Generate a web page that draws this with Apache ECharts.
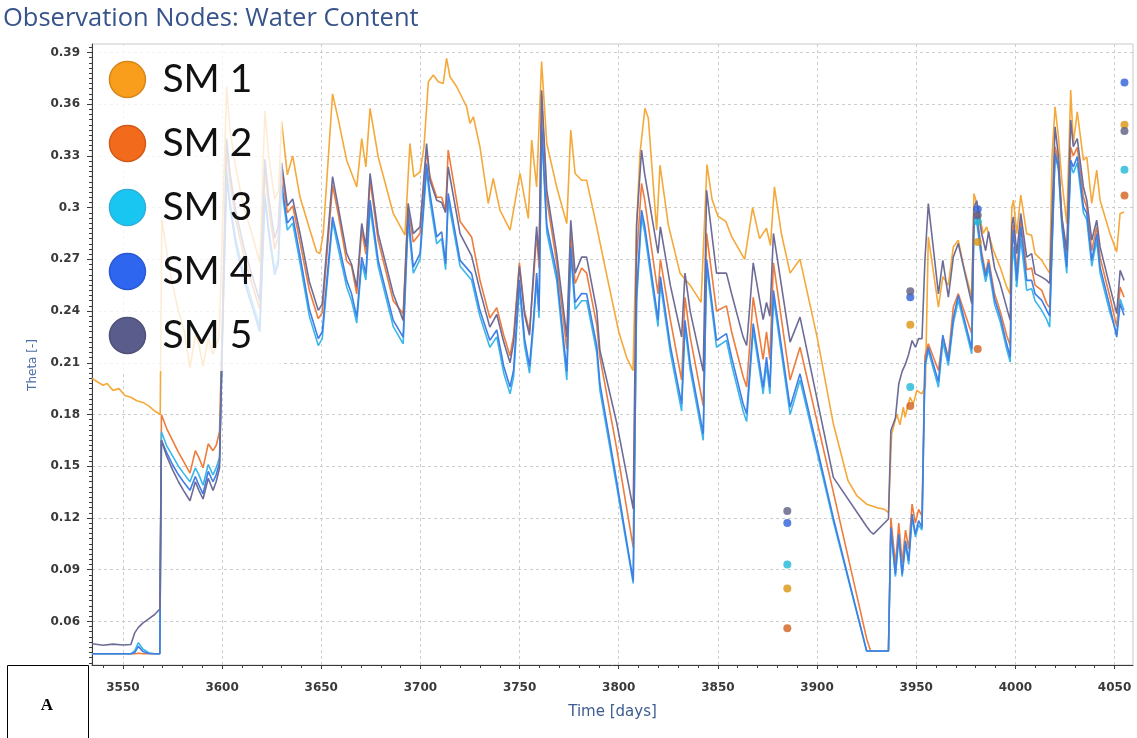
<!DOCTYPE html>
<html>
<head>
<meta charset="utf-8">
<script src="https://cdn.jsdelivr.net/npm/echarts@6/dist/echarts.min.js"></script>
<style>
html,body{margin:0;padding:0;background:#fff;}
#chart{width:1137px;height:738px;}
</style>
</head>
<body>
<div id="chart"></div>
<script>
// Observation nodes, simulated water content (theta) against time in days
const seriesNames = ['SM 1', 'SM 2', 'SM 3', 'SM 4', 'SM 5'];
const xTicks = [3550, 3600, 3650, 3700, 3750, 3800, 3850, 3900, 3950, 4000, 4050];
const yTicks = [0.06, 0.09, 0.12, 0.15, 0.18, 0.21, 0.24, 0.27, 0.3, 0.33, 0.36, 0.39];

// [day, theta]
const sm1 = [
[3534.5,.201],[3537,.199],[3540,.197],[3542,.198],[3545,.194],[3548,.195],[3551,.191],[3554,.190],[3557,.188],[3560,.187],[3563,.185],[3566,.182],[3568.8,.180],
[3569.6,.293],[3572,.275],[3575,.255],[3578,.240],[3581,.228],[3583.8,.207],[3586.5,.226],[3588,.222],[3590.4,.208],[3593,.224],[3595.4,.215],[3598.5,.225],
[3600.5,.300],[3602.3,.370],[3604,.345],[3607,.322],[3611,.300],[3615,.285],[3619,.268],[3621.6,.356],[3623.5,.330],[3626.5,.305],[3628.5,.310],
[3630,.350],[3632.9,.319],[3635.6,.330],[3639.3,.306],[3644,.288],[3647.7,.2743],[3649.3,.2733],[3651,.285],[3655.7,.366],[3658.6,.351],[3662.8,.3275],[3667.9,.312],[3670.4,.340],[3672.5,.3236],[3674.6,.3576],[3678.7,.3295],[3686.3,.2966],[3692.2,.284],[3694.7,.3372],[3696.7,.3178],[3699.8,.3207],[3701.8,.3353],[3704,.373],[3706.5,.3769],[3709,.373],[3711.5,.372],[3713.2,.3866],[3714.9,.3759],[3718.3,.3701],[3723.3,.3585],[3725,.3489],[3726.7,.3527],[3730,.3353],[3734.2,.3024],[3736.7,.3169],[3740.1,.2985],[3745.2,.2869],[3750.2,.3198],[3754.4,.2937],[3756.1,.3392],[3758.6,.312],[3761.1,.3847],[3763.7,.3372],[3768.7,.312],[3773.8,.2907],[3775.8,.345],[3778,.3198],[3781.3,.3159],[3783.8,.3159],[3788.9,.2888],[3795,.255],[3800,.228],[3804,.213],[3807.2,.2055],
[3809,.290],[3810.7,.3314],[3813.2,.3576],[3814.9,.352],[3819.1,.2869],[3820.8,.3246],[3825,.290],[3830.9,.262],[3836,.255],[3841.5,.245],[3844.5,.325],[3847,.305],[3850,.295],[3854,.292],[3857,.283],[3863.5,.270],[3867.5,.300],[3871,.282],[3874.5,.288],[3876.5,.278],[3878.5,.312],[3882,.285],[3886.4,.262],[3891.4,.270],[3900,.225],[3908.2,.1746],[3915.6,.1416],[3920,.133],[3925,.128],[3930,.126],[3934,.125],[3936,.123],
[3937.6,.1687],[3940.2,.1803],[3941.8,.174],[3943.5,.1842],[3944.4,.1784],[3946.9,.190],[3948.5,.186],[3950.3,.1939],[3952.8,.192],[3954.6,.196],[3956.1,.283],[3961.2,.2423],[3963.4,.260],[3966.2,.255],[3968.7,.2772],[3971.2,.2811],[3974,.2655],[3978,.2481],[3979.1,.3082],[3980.5,.3024],[3983.8,.285],[3985.5,.2888],[3988.9,.2752],[3992.3,.2655],[3995.6,.254],[3997.3,.250],
[3998.2,.300],[3999,.3043],[4000.7,.2849],[4002.7,.3072],[4005.7,.2849],[4008.2,.2839],[4009.9,.2733],[4013.3,.2694],[4015.8,.2646],[4017.3,.262],[4018.5,.330],[4020,.3585],[4021.7,.3411],[4023.4,.3159],[4025.9,.2908],[4027.9,.3682],[4029.2,.3372],[4031.2,.3556],[4034.3,.3275],[4036,.3295],[4038.5,.3024],[4041,.3217],[4042.7,.3043],[4047.7,.2849],[4051.1,.2743],[4052.8,.2966],[4054.8,.2975]
];

const sm2 = [
[3534.5,.0412],[3540,.0412],[3545,.0412],[3550,.0412],[3554,.0412],[3556,.0412],[3557.8,.0415],[3560,.0412],[3563,.0412],[3566,.0412],[3568.6,.0412],
[3569.4,.180],[3572,.172],[3575,.165],[3578,.158],[3580.5,.153],[3583.8,.146],[3586.5,.159],[3588.3,.155],[3590.4,.149],[3593,.163],[3595.4,.159],[3597,.162],[3598.7,.170],
[3600.5,.250],[3602.3,.335],[3604,.315],[3607,.292],[3611,.272],[3615,.256],[3619,.241],[3621.6,.322],[3623.5,.300],[3626.5,.276],[3628.3,.283],
[3630,.321],[3632.9,.297],[3635.6,.301],[3639.3,.280],[3644,.252],[3648.5,.2356],[3650.5,.239],[3655.7,.313],[3658.6,.296],[3662.8,.269],[3665.3,.266],[3667.9,.250],[3670.4,.287],[3672.5,.273],[3674.6,.316],[3678.7,.281],[3686.3,.246],[3691.3,.2385],[3693.8,.300],[3696.4,.280],[3699.8,.285],[3703.1,.333],[3704.8,.318],[3708.2,.306],[3710.7,.306],[3712.7,.298],[3714,.3334],[3720,.292],[3725.8,.283],[3730,.258],[3735,.236],
[3738.5,.242],[3742,.226],[3745.2,.214],[3747,.226],[3749.9,.268],[3752.5,.240],[3755,.228],[3757,.258],[3758.6,.285],[3759.8,.265],[3761.1,.365],[3763.7,.305],[3768.7,.268],[3773.8,.218],[3775.8,.285],[3778,.256],[3781.3,.265],[3783.8,.262],[3788.9,.232],[3790.5,.2133],[3799,.160],[3807.3,.1029],
[3809,.270],[3811.5,.314],[3813,.305],[3819.8,.250],[3821,.270],[3826,.235],[3831.7,.200],[3833.4,.248],[3836,.225],[3842.6,.185],[3844.3,.285],[3849.3,.240],[3854.3,.243],[3856.9,.228],[3862.7,.202],[3864.5,.196],[3867.8,.248],[3872.8,.212],[3874.5,.228],[3876.2,.212],[3878,.268],[3886.4,.200],[3891.4,.219],[3908.2,.135],[3925,.050],[3927,.0428],[3936,.0428],
[3937.2,.120],[3939.5,.093],[3941.2,.117],[3942.9,.094],[3944.6,.113],[3946.2,.102],[3947.9,.128],[3949.6,.117],[3951.2,.125],[3952.9,.121],[3954.4,.214],[3956.1,.221],[3961.2,.2055],[3963.4,.2249],[3966.2,.2133],[3968.7,.2423],[3971.2,.2501],[3978,.2268],[3979.1,.295],[3980.5,.297],[3983,.274],[3985,.262],[3986.5,.270],[3989.5,.250],[3992.3,.240],[3995.6,.226],[3997.4,.220],
[3998.2,.280],[3999,.290],[4000.7,.2617],[4002.7,.292],[4005.7,.264],[4008.2,.265],[4009.9,.255],[4013.3,.252],[4015.8,.2443],[4017.3,.242],[4020,.3353],[4021.7,.327],[4023.4,.294],[4025.9,.270],[4027.9,.335],[4029.2,.330],[4031.2,.335],[4034.3,.306],[4036,.300],[4038.5,.275],[4041,.289],[4042.7,.271],[4047.7,.248],[4051.1,.231],[4052.8,.2539],[4054.8,.2481]
];

const sm3 = [
[3534.5,.0412],[3540,.0412],[3545,.0412],[3550,.0412],[3554,.0412],[3556,.0430],[3557.8,.0477],[3560,.0440],[3563,.0418],[3566,.0412],[3568.6,.0412],
[3569.4,.170],[3572,.162],[3575,.156],[3578,.150],[3580.5,.146],[3583.8,.141],[3586.5,.149],[3588.3,.145],[3590.4,.139],[3593,.151],[3595.4,.145],[3597,.149],[3598.7,.155],
[3600.5,.240],[3602.3,.322],[3604,.303],[3607,.281],[3611,.261],[3615,.246],[3619,.231],[3621.6,.308],[3623.5,.288],[3626.5,.264],[3628.3,.270],
[3630,.311],[3632.9,.287],[3635.6,.291],[3639.3,.268],[3644,.237],[3648.5,.220],[3650.5,.224],[3655.7,.292],[3658.6,.276],[3662.8,.254],[3665.3,.246],[3667.9,.233],[3670.4,.268],[3672.5,.258],[3674.6,.300],[3678.7,.266],[3686.3,.231],[3691.3,.221],[3693.8,.292],[3696.4,.262],[3699.8,.270],[3703.1,.322],[3704.8,.304],[3708.2,.279],[3710.7,.282],[3712.7,.264],[3714,.304],[3720,.266],[3725.8,.258],[3730,.237],[3735,.219],
[3738.5,.225],[3742,.204],[3745.2,.192],[3747,.202],[3749.9,.254],[3752.5,.220],[3755,.204],[3757,.231],[3758.6,.258],[3759.8,.236],[3761.1,.345],[3763.7,.286],[3768.7,.258],[3773.8,.200],[3775.8,.273],[3778,.241],[3781.3,.246],[3783.8,.246],[3788.9,.216],[3790.5,.194],[3799,.138],[3807.3,.082],
[3809,.245],[3811.5,.295],[3813,.286],[3819.8,.231],[3821,.256],[3826,.216],[3831.7,.182],[3833.4,.231],[3836,.206],[3842.6,.165],[3844.3,.266],[3849.3,.219],[3854.3,.223],[3856.9,.209],[3862.7,.182],[3864.5,.176],[3867.8,.229],[3872.8,.192],[3874.5,.209],[3876.2,.192],[3878,.248],[3886.4,.180],[3891.4,.200],[3908.2,.118],[3925,.0428],[3927,.0428],[3936,.0428],
[3937.2,.113],[3939.5,.086],[3941.2,.109],[3942.9,.086],[3944.6,.105],[3946.2,.093],[3947.9,.120],[3949.6,.109],[3951.2,.116],[3952.9,.113],[3954.4,.207],[3956.1,.2171],[3961.2,.1958],[3963.4,.222],[3966.2,.2084],[3968.7,.2327],[3971.2,.2462],[3978,.2152],[3979.1,.290],[3980.5,.292],[3983,.269],[3985,.257],[3986.5,.265],[3989.5,.244],[3992.3,.234],[3995.6,.218],[3997.4,.2104],
[3998.2,.265],[3999,.2772],[4000.7,.2539],[4002.7,.282],[4005.7,.252],[4008.2,.253],[4009.9,.246],[4013.3,.2404],[4015.8,.235],[4017.3,.2307],[4020,.3314],[4021.7,.322],[4023.4,.289],[4025.9,.262],[4027.9,.325],[4029.2,.320],[4031.2,.326],[4034.3,.297],[4036,.293],[4038.5,.266],[4041,.281],[4042.7,.262],[4047.7,.239],[4051.1,.227],[4052.8,.247],[4054.8,.2404]
];

const sm4 = [
[3534.5,.0412],[3540,.0412],[3545,.0412],[3550,.0412],[3554,.0412],[3556,.0420],[3557.8,.0455],[3560,.0425],[3563,.0414],[3566,.0412],[3568.6,.0412],
[3569.4,.165],[3572,.158],[3575,.151],[3578,.145],[3580.5,.141],[3583.8,.136],[3586.5,.144],[3588.3,.139],[3590.4,.134],[3593,.147],[3595.4,.141],[3597,.145],[3598.7,.152],
[3600.5,.240],[3602.3,.318],[3604,.300],[3607,.278],[3611,.258],[3615,.243],[3619,.228],[3621.6,.305],[3623.5,.285],[3626.5,.261],[3628.3,.267],
[3630,.314],[3632.9,.291],[3635.6,.295],[3639.3,.272],[3644,.241],[3648.5,.224],[3650.5,.228],[3655.7,.2946],[3658.6,.280],[3662.8,.2578],[3665.3,.250],[3667.9,.2365],[3670.4,.2713],[3672.5,.2617],[3674.6,.3043],[3678.7,.2694],[3686.3,.2346],[3691.3,.2249],[3693.8,.2966],[3696.4,.2655],[3699.8,.2733],[3703.1,.3256],[3704.8,.3082],[3708.2,.283],[3710.7,.286],[3712.7,.2675],[3714,.3082],[3720,.2694],[3725.8,.2617],[3730,.2404],[3735,.223],
[3738.5,.229],[3742,.208],[3745.2,.196],[3747,.206],[3749.9,.258],[3752.5,.224],[3755,.208],[3757,.235],[3758.6,.262],[3759.8,.240],[3761.1,.349],[3763.7,.290],[3768.7,.2619],[3773.8,.205],[3775.8,.2772],[3778,.245],[3781.3,.2502],[3783.8,.250],[3788.9,.220],[3790.5,.198],[3799,.141],[3807.3,.0835],
[3809,.250],[3811.5,.2985],[3813,.290],[3819.8,.235],[3821,.260],[3826,.220],[3831.7,.1862],[3833.4,.2346],[3836,.210],[3842.6,.1687],[3844.3,.270],[3849.3,.223],[3854.3,.2269],[3856.9,.2133],[3862.7,.1862],[3864.5,.1803],[3867.8,.2327],[3872.8,.1958],[3874.5,.2133],[3876.2,.1958],[3878,.252],[3886.4,.1842],[3891.4,.2036],[3908.2,.120],[3925,.0428],[3927,.0428],[3936,.0428],
[3937.2,.1145],[3939.5,.0874],[3941.2,.1106],[3942.9,.0874],[3944.6,.1067],[3946.2,.095],[3947.9,.1222],[3949.6,.1106],[3951.2,.1184],[3952.9,.1145],[3954.4,.2094],[3956.1,.219],[3961.2,.199],[3963.4,.226],[3966.2,.211],[3968.7,.236],[3971.2,.249],[3978,.218],[3979.1,.293],[3980.5,.295],[3983,.272],[3985,.260],[3986.5,.268],[3989.5,.247],[3992.3,.237],[3995.6,.221],[3997.4,.2133],
[3998.2,.275],[3999,.287],[4000.7,.2578],[4002.7,.2888],[4005.7,.2578],[4008.2,.2578],[4009.9,.250],[4013.3,.2462],[4015.8,.2404],[4017.3,.237],[4020,.3314],[4021.7,.3236],[4023.4,.2927],[4025.9,.2655],[4027.9,.3275],[4029.2,.3236],[4031.2,.3295],[4034.3,.3004],[4036,.2966],[4038.5,.2694],[4041,.2849],[4042.7,.2655],[4047.7,.2423],[4051.1,.2249],[4052.8,.2443],[4054.8,.2375]
];

const sm5 = [
[3534.5,.0470],[3540,.0462],[3545,.0468],[3550,.0463],[3554,.0466],[3556,.0535],[3557.8,.0565],[3560,.0590],[3563,.0615],[3566,.0640],[3568.6,.0672],
[3569.4,.165],[3572,.156],[3575,.148],[3578,.141],[3580.5,.136],[3583.8,.130],[3586.5,.141],[3588.3,.136],[3590.4,.131],[3593,.143],[3595.4,.136],[3597,.141],[3598.7,.149],
[3600.5,.250],[3602.3,.340],[3604,.320],[3607,.297],[3611,.277],[3615,.261],[3619,.246],[3621.6,.328],[3623.5,.306],[3626.5,.282],[3628.3,.289],
[3630,.326],[3632.9,.301],[3635.6,.305],[3639.3,.285],[3644,.257],[3648.5,.2404],[3650.5,.244],[3655.7,.318],[3658.6,.300],[3662.8,.2735],[3665.3,.267],[3667.9,.2539],[3670.4,.2908],[3672.5,.2772],[3674.6,.3198],[3678.7,.2849],[3686.3,.250],[3691.3,.2346],[3693.8,.3024],[3696.4,.2849],[3699.8,.2888],[3703.1,.3372],[3704.8,.3159],[3708.2,.3043],[3710.7,.303],[3712.7,.297],[3714,.3236],[3720,.2849],[3725.8,.272],[3730,.252],[3735,.2307],
[3738.5,.238],[3742,.222],[3745.2,.210],[3747,.222],[3749.9,.266],[3752.5,.238],[3755,.226],[3757,.262],[3758.6,.289],[3759.8,.270],[3761.1,.368],[3763.7,.310],[3768.7,.2735],[3773.8,.225],[3775.8,.2927],[3778,.262],[3781.3,.2713],[3783.8,.2713],[3788.9,.2404],[3790.5,.2171],[3799,.175],[3807.3,.1252],
[3809,.290],[3811.5,.3334],[3813,.320],[3819.8,.2735],[3821,.2888],[3826,.255],[3831.7,.225],[3833.4,.262],[3836,.240],[3842.6,.205],[3844.3,.310],[3849.3,.262],[3854.3,.262],[3856.9,.250],[3862.7,.225],[3864.5,.220],[3867.8,.268],[3872.8,.235],[3874.5,.245],[3876.2,.237],[3878,.285],[3886.4,.222],[3891.4,.2365],[3908.2,.1435],[3925,.115],[3927,.112],[3928.4,.1106],[3936,.1194],
[3937.2,.1707],[3939.5,.178],[3941.2,.1978],[3942.9,.205],[3944.6,.2094],[3946.2,.215],[3947.9,.2229],[3949.6,.219],[3951.2,.224],[3952.9,.2239],[3954.4,.270],[3956.1,.3024],[3961.2,.250],[3963.4,.2694],[3966.2,.2481],[3968.7,.2714],[3971.2,.2792],[3978,.2443],[3979.1,.300],[3980.5,.304],[3983,.285],[3985,.275],[3986.5,.286],[3989.5,.265],[3992.3,.256],[3995.6,.242],[3997.4,.2346],
[3998.2,.290],[3999,.2946],[4000.7,.2733],[4002.7,.2966],[4005.7,.2713],[4008.2,.2733],[4009.9,.2617],[4013.3,.2597],[4015.8,.2578],[4017.3,.256],[4020,.3469],[4021.7,.330],[4023.4,.2946],[4025.9,.2752],[4027.9,.3508],[4029.2,.3353],[4031.2,.3401],[4034.3,.312],[4036,.3043],[4038.5,.2811],[4041,.2927],[4042.7,.2772],[4047.7,.2539],[4051.1,.2385],[4052.8,.2636],[4054.8,.2578]
];

// measured values at the observation dates
const obsDays = [3885, 3947, 3981, 4055];
const obs1 = [0.079, 0.232, 0.280, 0.348];
const obs2 = [0.056, 0.185, 0.218, 0.307];
const obs3 = [0.093, 0.196, 0.292, 0.322];
const obs4 = [0.117, 0.248, 0.299, 0.3725];
const obs5 = [0.124, 0.2515, 0.2956, 0.3444];

const lineColors = ['#f4a93a', '#ee7c3c', '#3bb6ea', '#3f7ee4', '#6d6c98'];
const legendColors = ['#f89d1c', '#f26a1b', '#19c6f2', '#2e66f0', '#5a5c8c'];
const legendBorders = ['#d8861a', '#d35a18', '#30b0d8', '#2a58d0', '#4e5078'];
const dotColors = ['#d9930f', '#d2601e', '#1fb8d6', '#2b5fd9', '#5e5e82'];

const lines = [sm1, sm2, sm3, sm4, sm5];
const obs = [obs1, obs2, obs3, obs4, obs5];

const xMinor = [];
for (let d = 3540; d <= 4050; d += 10) xMinor.push(d);
const yMinor = [];
for (let k = 12; k <= 131; k++) yMinor.push(+(k * 0.003).toFixed(3));

const X_MIN = 3534.4, X_MAX = 4059.3, Y_MIN = 0.0347, Y_MAX = 0.3949;
const tickFont = 'DejaVu Sans';

const series = [];
lines.forEach((data, i) => {
  series.push({
    name: seriesNames[i],
    type: 'line',
    data: data,
    showSymbol: false,
    symbol: 'none',
    lineStyle: { width: 1.6, color: lineColors[i] },
    itemStyle: { color: lineColors[i] },
    z: 2
  });
});
obs.forEach((vals, i) => {
  series.push({
    name: seriesNames[i] + ' obs',
    type: 'scatter',
    data: obsDays.map((d, j) => [d, vals[j]]),
    symbolSize: 8,
    itemStyle: { color: dotColors[i] },
    z: 3
  });
});

const chart = echarts.init(document.getElementById('chart'), null, { renderer: 'canvas' });
chart.setOption({
  animation: false,
  backgroundColor: '#ffffff',
  title: {
    text: 'Observation Nodes: Water Content',
    left: 3,
    top: 6,
    padding: 0,
    textStyle: { fontFamily: 'Open Sans', fontSize: 25.5, fontWeight: 'normal', color: '#37548a' }
  },
  grid: {
    left: 92, right: 4, top: 44, bottom: 73,
    show: true, borderColor: '#c9c9c9', borderWidth: 1, backgroundColor: 'transparent'
  },
  legend: {
    orient: 'vertical',
    left: 93, top: 45,
    padding: [15, 30, 16, 15.7],
    itemWidth: 60, itemHeight: 36, itemGap: 25,
    icon: 'circle',
    selectedMode: false,
    backgroundColor: 'rgba(255,255,255,0.78)',
    textStyle: { fontFamily: 'Lato', fontSize: 39, color: '#111', lineHeight: 36 },
    data: seriesNames.map((n, i) => ({
      name: n,
      itemStyle: { color: legendColors[i], borderColor: legendBorders[i], borderWidth: 1.5 }
    }))
  },
  xAxis: [{
    type: 'value', min: X_MIN, max: X_MAX, position: 'bottom',
    name: 'Time [days]', nameLocation: 'middle', nameGap: 40,
    nameTextStyle: { fontFamily: tickFont, fontSize: 15, color: '#3d5d92' },
    axisLine: { show: true, onZero: false, lineStyle: { color: '#3a3a3a', width: 1 } },
    axisTick: { show: true, customValues: xTicks, length: 4, lineStyle: { color: '#3a3a3a' } },
    axisLabel: {
      customValues: xTicks, margin: 17, fontFamily: tickFont, fontSize: 12, fontWeight: 'bold', color: '#3a3a3a',
      formatter: v => String(Math.round(v))
    },
    splitLine: { show: true, lineStyle: { color: '#cdcdcd', type: [3, 3], width: 1 } }
  }, {
    type: 'value', min: X_MIN, max: X_MAX, position: 'bottom', gridIndex: 0,
    axisLine: { show: false },
    axisTick: { show: true, customValues: xMinor, length: 3, lineStyle: { color: '#3a3a3a' } },
    axisLabel: { show: false },
    splitLine: { show: false }
  }],
  yAxis: [{
    type: 'value', min: Y_MIN, max: Y_MAX, position: 'left',
    axisLine: { show: true, onZero: false, lineStyle: { color: '#3a3a3a', width: 1 } },
    axisTick: { show: true, customValues: yTicks, length: 5, lineStyle: { color: '#3a3a3a' } },
    axisLabel: {
      customValues: yTicks, margin: 12, fontFamily: tickFont, fontSize: 12, fontWeight: 'bold', color: '#3a3a3a',
      formatter: v => String(parseFloat(v.toFixed(2)))
    },
    splitLine: { show: true, lineStyle: { color: '#cdcdcd', type: [3, 3], width: 1 } }
  }, {
    type: 'value', min: Y_MIN, max: Y_MAX, position: 'left', gridIndex: 0,
    axisLine: { show: false },
    axisTick: { show: true, customValues: yMinor, length: 3, lineStyle: { color: '#3a3a3a' } },
    axisLabel: { show: false },
    splitLine: { show: false }
  }],
  series: series,
  graphic: [
    {
      type: 'text', x: 33, y: 365, rotation: Math.PI / 2,
      style: { text: 'Theta [-]', fontFamily: tickFont, fontSize: 12, fill: '#4a6ea6', align: 'center', verticalAlign: 'middle' }
    },
    {
      type: 'rect', shape: { x: 7.5, y: 665.5, width: 81, height: 80 },
      style: { fill: '#ffffff', stroke: '#000000', lineWidth: 1 }, z: 10
    },
    {
      type: 'text', x: 47, y: 706,
      style: { text: 'A', fontFamily: 'Liberation Serif', fontWeight: 'bold', fontSize: 17, fill: '#000', align: 'center', verticalAlign: 'middle' }, z: 11
    }
  ]
});
</script>
</body>
</html>
